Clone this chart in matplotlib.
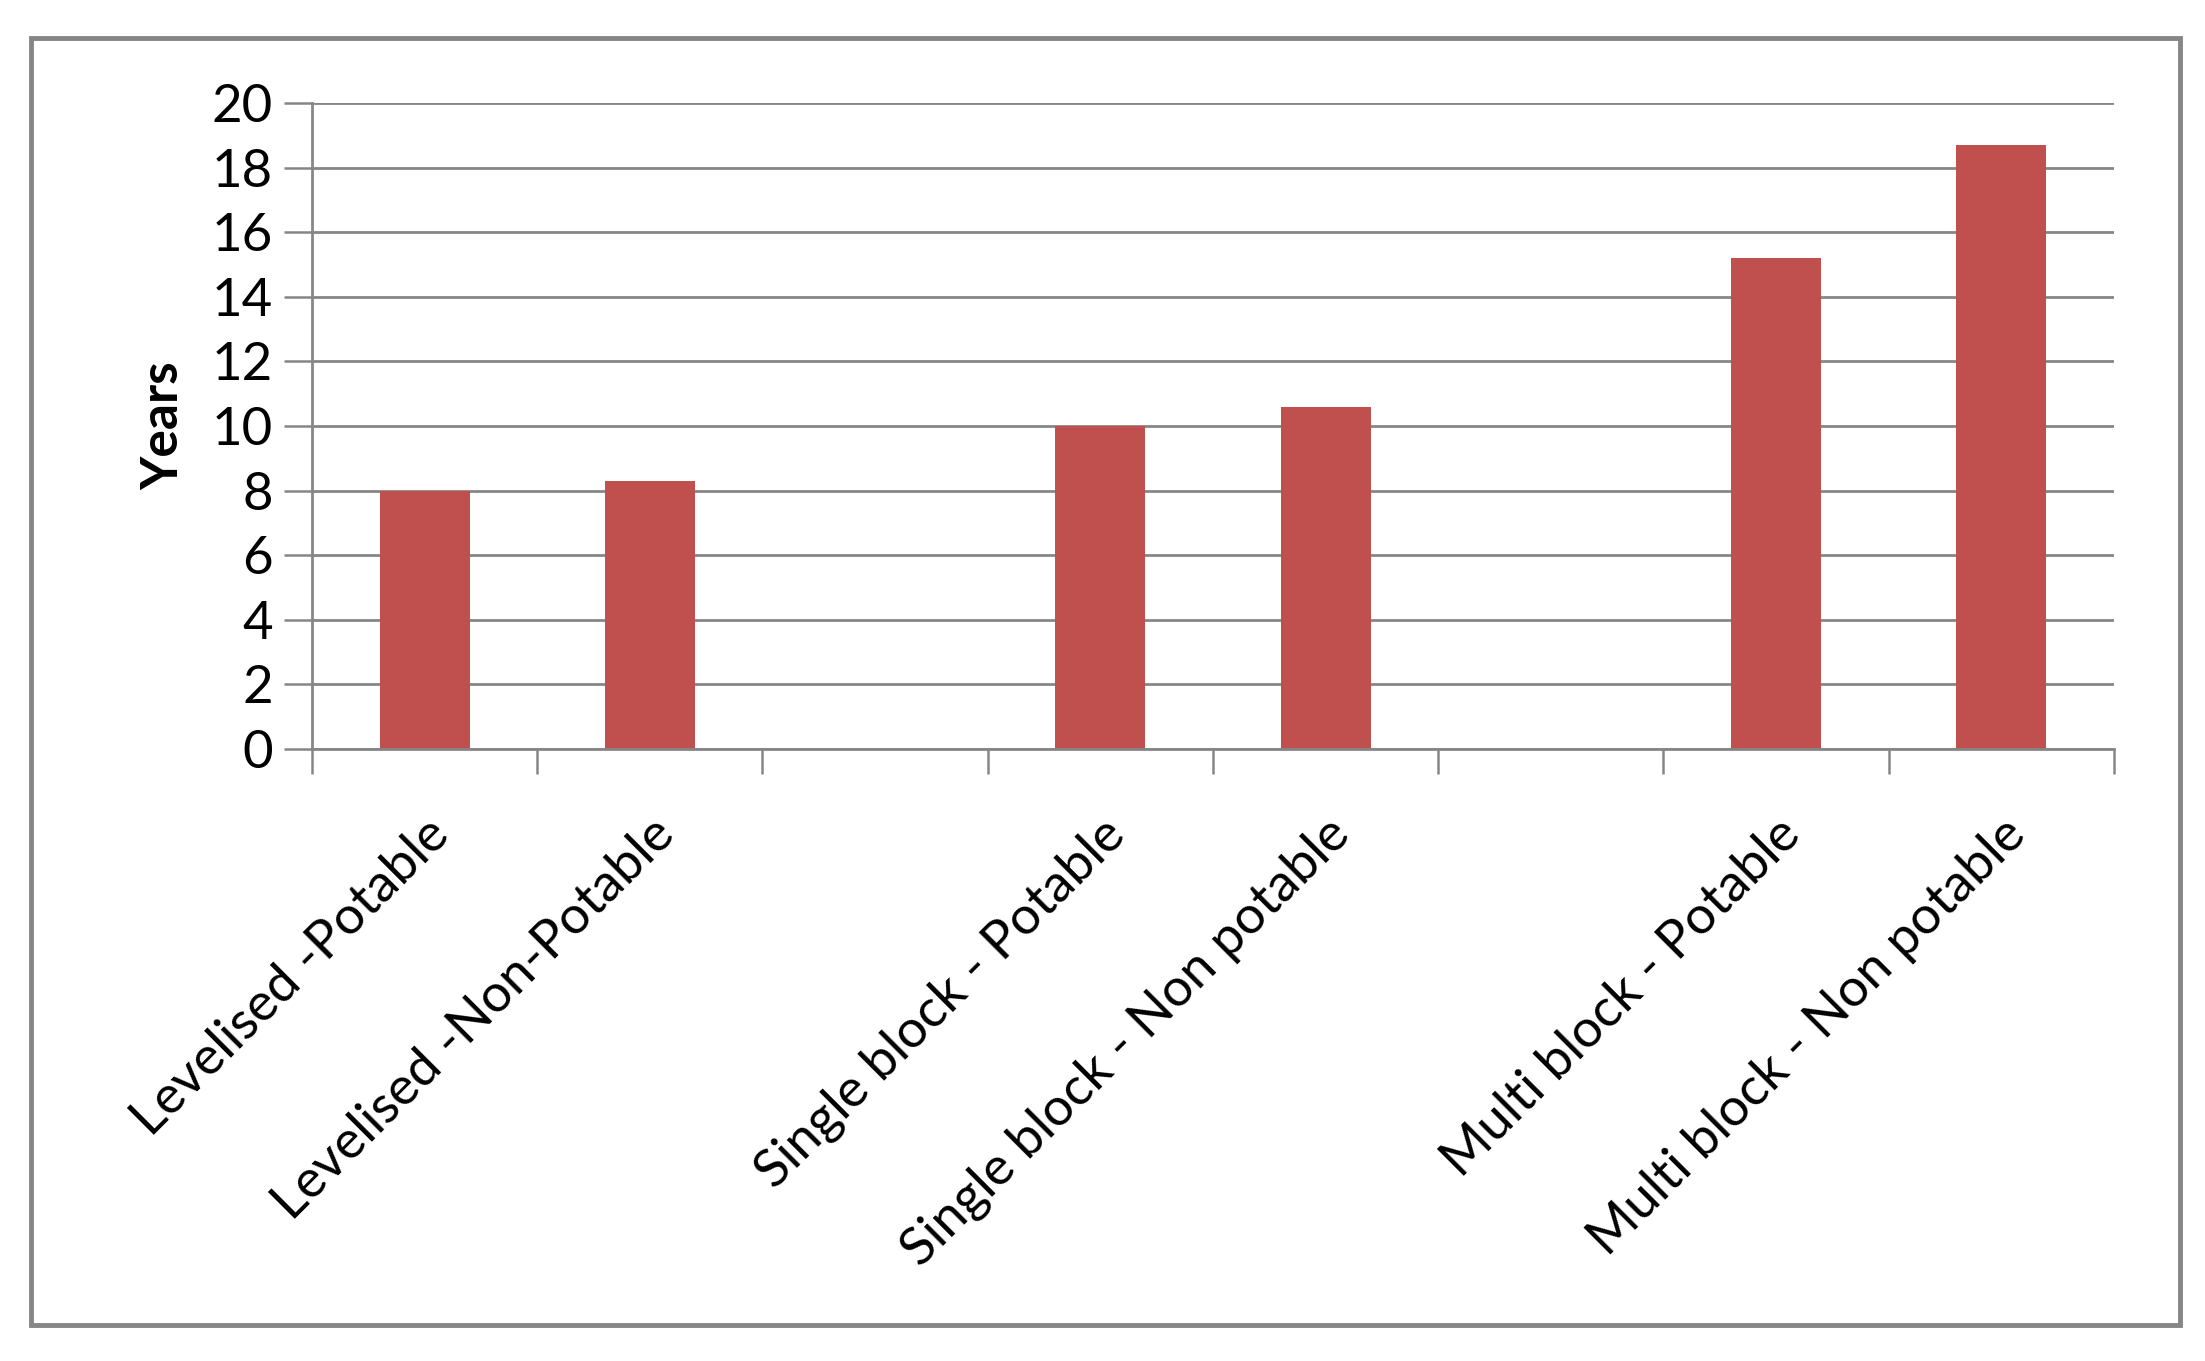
import numpy as np
import matplotlib
matplotlib.use("Agg")
import matplotlib.pyplot as plt
from matplotlib.patches import Rectangle

# categories (empty strings are the gaps between groups)
categories = ["Levelised -Potable", "Levelised -Non-Potable", "",
              "Single block - Potable", "Single block - Non potable", "",
              "Multi block - Potable", "Multi block - Non potable"]
years = [8.0, 8.3, np.nan, 10.0, 10.6, np.nan, 15.2, 18.7]
yticks = [0, 2, 4, 6, 8, 10, 12, 14, 16, 18, 20]

plt.rcParams['font.family'] = ['Lato', 'DejaVu Sans']
grey = '#868686'

fig = plt.figure(figsize=(22.05, 13.61), dpi=100)
ax = fig.add_axes([0.1415, 0.4497, 0.8172, 0.4746])

x = np.arange(len(categories))
ax.bar(x, years, width=0.4, color='#C0504D', zorder=3)

ax.set_xlim(-0.5, len(categories) - 0.5)
ax.set_ylim(0, 20)
ax.set_yticks(yticks)
ax.tick_params(axis='y', labelsize=38, length=20, width=1.8, color=grey, pad=8)
ax.yaxis.grid(True, color=grey, linewidth=2.0, zorder=0)

# labels at bar centres, tick marks at slot boundaries
ax.set_xticks(x)
ax.set_xticklabels(categories, rotation=45, ha='right', rotation_mode='anchor', fontsize=38)
ax.tick_params(axis='x', which='major', length=0, pad=44)
ax.set_xticks(np.arange(len(categories) + 1) - 0.5, minor=True)
ax.tick_params(axis='x', which='minor', length=18, width=1.8, color=grey)

for side in ['top', 'right']:
    ax.spines[side].set_visible(False)
for side in ['left', 'bottom']:
    ax.spines[side].set_color(grey)
    ax.spines[side].set_linewidth(2.0)
ax.spines['bottom'].set_zorder(4)

ax.set_ylabel("Years", fontsize=37, fontweight='bold', labelpad=18)

# outer frame
fig.patches.append(Rectangle((31 / 2205, 36 / 1361), 2149 / 2205, 1287 / 1361,
                             transform=fig.transFigure, fill=False,
                             edgecolor=grey, linewidth=3.5))

fig.savefig("out.png", dpi=100, facecolor='white')
